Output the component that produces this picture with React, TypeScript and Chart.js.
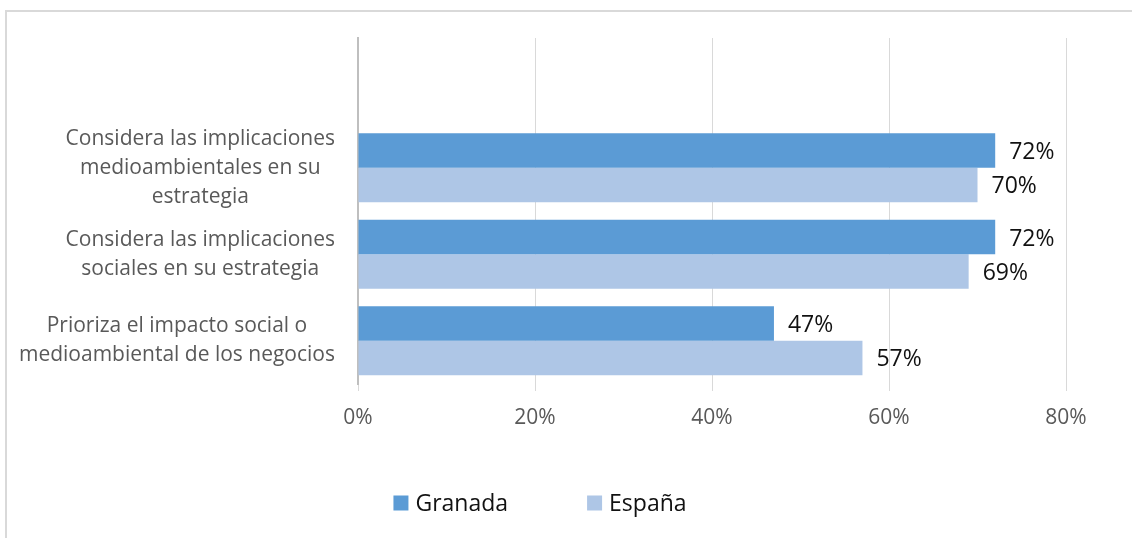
import React, { useEffect, useRef } from "react";
import { Chart, registerables } from "chart.js";

Chart.register(...registerables);

const categories: string[] = [
  "Considera las implicaciones\nmedioambientales en su\nestrategia",
  "Considera las implicaciones\nsociales en su estrategia",
  "Prioriza el impacto social o\nmedioambiental de los negocios",
];
const granada: number[] = [72, 72, 47];
const espana: number[] = [70, 69, 57];
const seriesNames: string[] = ["Granada", "España"];
const seriesColors: string[] = ["#5B9BD5", "#AEC6E6"];
const xTicks: number[] = [0, 20, 40, 60, 80];

const FONT = "'Open Sans', 'Noto Sans', sans-serif";

const valueLabels = {
  id: "valueLabels",
  afterDatasetsDraw(chart: any) {
    const ctx = chart.ctx;
    ctx.save();
    ctx.font = `23px ${FONT}`;
    ctx.fillStyle = "#111111";
    ctx.textAlign = "left";
    ctx.textBaseline = "middle";
    chart.data.datasets.forEach((ds: any, di: number) => {
      const meta = chart.getDatasetMeta(di);
      meta.data.forEach((el: any, i: number) => {
        const v = ds.data[i];
        if (v === null || v === undefined) return;
        ctx.fillText(`${v}%`, el.x + 14, el.y + 2);
      });
    });
    ctx.restore();
  },
};

const categoryLabels = {
  id: "categoryLabels",
  afterDraw(chart: any) {
    const ctx = chart.ctx;
    const y = chart.scales.y;
    ctx.save();
    ctx.font = `21px ${FONT}`;
    ctx.fillStyle = "#595959";
    ctx.textAlign = "center";
    ctx.textBaseline = "middle";
    const rightEdge = chart.chartArea.left - 23;
    const lineH = 29;
    categories.forEach((cat, i) => {
      const lines = cat.split("\n");
      const widest = Math.max(...lines.map((l) => ctx.measureText(l).width));
      const cx = rightEdge - widest / 2;
      const cy = y.getPixelForValue(i + 1);
      const top = cy - ((lines.length - 1) * lineH) / 2;
      lines.forEach((l, k) => ctx.fillText(l, cx, top + k * lineH));
    });
    ctx.restore();
  },
};

const bottomLegend = {
  id: "bottomLegend",
  afterDraw(chart: any) {
    const ctx = chart.ctx;
    ctx.save();
    ctx.font = `23px ${FONT}`;
    ctx.textBaseline = "middle";
    ctx.textAlign = "left";
    const box = 15;
    const gap = 7;
    const spacing = 79;
    const widths = seriesNames.map((n) => box + gap + ctx.measureText(n).width);
    const total = widths.reduce((a, b) => a + b, 0) + spacing * (seriesNames.length - 1);
    let x = 540 - total / 2;
    const cy = 503;
    seriesNames.forEach((n, i) => {
      ctx.fillStyle = seriesColors[i];
      ctx.fillRect(x, cy - box / 2, box, box);
      ctx.fillStyle = "#111111";
      ctx.fillText(n, x + box + gap, cy + 1);
      x += widths[i] + spacing;
    });
    ctx.restore();
  },
};

export default function App() {
  const ref = useRef<HTMLCanvasElement>(null);
  useEffect(() => {
    if (!ref.current) return;
    const labels = ["", ...categories];
    const chart = new Chart(ref.current, {
      type: "bar",
      data: {
        labels,
        datasets: [
          {
            label: seriesNames[0],
            data: [null, ...granada],
            backgroundColor: seriesColors[0],
            categoryPercentage: 0.795,
            barPercentage: 1,
          },
          {
            label: seriesNames[1],
            data: [null, ...espana],
            backgroundColor: seriesColors[1],
            categoryPercentage: 0.795,
            barPercentage: 1,
          },
        ],
      } as any,
      options: {
        indexAxis: "y",
        responsive: false,
        animation: false,
        devicePixelRatio: 1,
        layout: { padding: { left: 0, right: 66, top: 38, bottom: 0 } },
        plugins: {
          legend: { display: false },
          tooltip: { enabled: false },
        },
        scales: {
          x: {
            min: xTicks[0],
            max: xTicks[xTicks.length - 1],
            afterBuildTicks: (s: any) => {
              s.ticks = xTicks.map((v) => ({ value: v }));
            },
            ticks: {
              callback: (v: any) => `${v}%`,
              color: "#595959",
              font: { family: FONT, size: 21 },
              padding: 14,
              maxRotation: 0,
            },
            grid: { color: "#D9D9D9", lineWidth: 1, tickLength: 7 },
            border: { display: false },
            afterFit: (s: any) => {
              s.height = 154;
            },
          },
          y: {
            ticks: { display: false },
            grid: { color: "transparent", drawTicks: false },
            border: { display: true, color: "#BFBFBF", width: 2 },
            afterFit: (s: any) => {
              s.width = 358;
            },
          },
        },
      },
      plugins: [valueLabels, categoryLabels, bottomLegend],
    });
    return () => chart.destroy();
  }, []);

  return (
    <div
      style={{
        position: "fixed",
        left: 0,
        top: 0,
        width: 1132,
        height: 538,
        overflow: "hidden",
        background: "#ffffff",
      }}
    >
      <div
        style={{
          position: "absolute",
          left: 5,
          top: 10,
          width: 2000,
          height: 2000,
          border: "2px solid #D9D9D9",
        }}
      />
      <canvas
        ref={ref}
        width={1132}
        height={538}
        style={{ position: "absolute", left: 0, top: 0, width: 1132, height: 538 }}
      />
    </div>
  );
}
